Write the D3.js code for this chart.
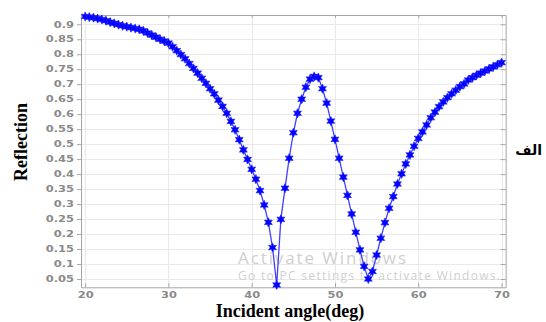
<!DOCTYPE html>
<html>
<head>
<meta charset="utf-8">
<script src="https://cdn.jsdelivr.net/npm/d3@7"></script>
<style>
  html, body { margin: 0; padding: 0; background: #fff; }
  svg { display: block; }
</style>
</head>
<body>
<div id="chart"></div>
<script>
// incident angle (deg), 0.5 deg step
const angles = d3.range(20, 70.001, 0.5)
const reflection = [
  0.926, 0.924, 0.922, 0.919, 0.916, 0.912, 0.907, 0.903, 0.899, 0.895,
  0.892, 0.889, 0.886, 0.883, 0.878, 0.871, 0.864, 0.857, 0.850, 0.844,
  0.837, 0.825, 0.812, 0.799, 0.785, 0.769, 0.753, 0.737, 0.720, 0.703,
  0.685, 0.668, 0.647, 0.626, 0.603, 0.576, 0.548, 0.515, 0.481, 0.449,
  0.416, 0.383, 0.345, 0.297, 0.239, 0.155, 0.030, 0.249, 0.353, 0.453,
  0.538, 0.603, 0.650, 0.690, 0.717, 0.726, 0.722, 0.685, 0.637, 0.577,
  0.516, 0.453, 0.390, 0.329, 0.267, 0.206, 0.147, 0.092, 0.050, 0.075,
  0.130, 0.186, 0.238, 0.286, 0.325, 0.367, 0.401, 0.434, 0.464, 0.493,
  0.519, 0.541, 0.564, 0.588, 0.607, 0.625, 0.641, 0.655, 0.668, 0.680,
  0.692, 0.701, 0.714, 0.722, 0.730, 0.737, 0.744, 0.751, 0.758, 0.765,
  0.772
]
const xTicks = [20, 30, 40, 50, 60, 70]
const yTicks = [0.05, 0.1, 0.15, 0.2, 0.25, 0.3, 0.35, 0.4, 0.45, 0.5,
  0.55, 0.6, 0.65, 0.7, 0.75, 0.8, 0.85, 0.9]

const width = 546
const height = 322
const plotLeft = 81, plotRight = 505.7, plotTop = 15, plotBottom = 287.3
const labelStretch = 1.35

const svg = d3.select("#chart")
  .append("svg")
  .attr("width", width)
  .attr("height", height)

const xScale = d3.scaleLinear().domain([19.5, 70.5]).range([plotLeft, plotRight])
const yScale = d3.scaleLinear().domain([0.0222, 0.931]).range([plotBottom, plotTop])

// grid
const grid = svg.append("g").attr("stroke", "#e9e9e9").attr("stroke-width", 1)
grid.selectAll("line.h")
  .data(yTicks)
  .enter()
  .append("line")
  .attr("x1", plotLeft).attr("x2", plotRight)
  .attr("y1", d => Math.round(yScale(d)) + 0.5)
  .attr("y2", d => Math.round(yScale(d)) + 0.5)
grid.selectAll("line.v")
  .data(xTicks)
  .enter()
  .append("line")
  .attr("y1", plotTop).attr("y2", plotBottom)
  .attr("x1", d => Math.round(xScale(d)) + 0.5)
  .attr("x2", d => Math.round(xScale(d)) + 0.5)

// watermark
const wm = svg.append("g")
  .attr("fill", "#cfcfcf")
  .attr("font-family", "'Open Sans', 'DejaVu Sans', sans-serif")
wm.append("text")
  .attr("x", 238).attr("y", 264)
  .attr("font-size", 17)
  .attr("textLength", 168)
  .text("Activate Windows")
wm.append("text")
  .attr("x", 238).attr("y", 280)
  .attr("font-size", 12)
  .attr("textLength", 262)
  .text("Go to PC settings to activate Windows.")

function styleAxis(g) {
  g.select(".domain").attr("stroke", "#a6a6a6")
  g.selectAll(".tick line").attr("stroke", "#a6a6a6")
  g.selectAll(".tick text")
    .attr("fill", "#8a8a8a")
    .attr("font-family", "'DejaVu Sans', sans-serif")
    .attr("font-weight", "bold")
    .attr("font-size", 8.5)
}

const yAxis = svg.append("g")
  .attr("transform", `translate(${plotLeft},0)`)
  .call(d3.axisLeft(yScale).tickValues(yTicks).tickFormat(d3.format("")).tickSize(4).tickSizeOuter(0).tickPadding(3))
styleAxis(yAxis)
yAxis.selectAll(".tick text").each(function() {
  const t = d3.select(this)
  const x = +t.attr("x")
  t.attr("x", 0).attr("transform", `translate(${x},0) scale(${labelStretch},1)`)
})

const xAxis = svg.append("g")
  .attr("transform", `translate(0,${plotBottom})`)
  .call(d3.axisBottom(xScale).tickValues(xTicks).tickSizeInner(-4).tickSizeOuter(0).tickPadding(5))
styleAxis(xAxis)
xAxis.selectAll(".tick text").attr("transform", `scale(${labelStretch},1)`)

svg.append("g")
  .attr("transform", `translate(0,${plotTop})`)
  .call(d3.axisBottom(xScale).tickValues(xTicks).tickSize(3).tickSizeOuter(0).tickFormat(""))
  .call(styleAxis)

svg.append("g")
  .attr("transform", `translate(${plotRight},0)`)
  .call(d3.axisLeft(yScale).tickValues(yTicks).tickSize(5).tickSizeOuter(0).tickFormat(""))
  .call(styleAxis)

// data line
const points = angles.map((a, i) => ({angle: a, value: reflection[i]}))
svg.append("path")
  .datum(points)
  .attr("fill", "none")
  .attr("stroke", "#3f3fff")
  .attr("stroke-width", 1.3)
  .attr("d", d3.line()
    .x(d => xScale(d.angle))
    .y(d => yScale(d.value)))

// six-point star markers
const starPath = (() => {
  const pts = []
  for (let k = 0; k < 12; k++) {
    const r = k % 2 === 0 ? 4.6 : 2.4
    const a = Math.PI / 6 * k - Math.PI / 2
    pts.push([r * Math.cos(a), r * Math.sin(a)])
  }
  return "M" + pts.map(p => p.join(",")).join("L") + "Z"
})()

svg.append("g")
  .selectAll("path")
  .data(points)
  .enter()
  .append("path")
  .attr("d", starPath)
  .attr("transform", d => `translate(${xScale(d.angle)},${yScale(d.value)})`)
  .attr("fill", "#0000ff")
  .attr("stroke", "#2020ff")
  .attr("stroke-width", 0.6)

// titles
svg.append("text")
  .attr("transform", `translate(27,142) rotate(-90)`)
  .attr("text-anchor", "middle")
  .attr("font-family", "'Liberation Serif', 'Times New Roman', serif")
  .attr("font-weight", "bold")
  .attr("font-size", 18)
  .attr("fill", "#000")
  .text("Reflection")

svg.append("text")
  .attr("x", 290)
  .attr("y", 317)
  .attr("text-anchor", "middle")
  .attr("font-family", "'Liberation Serif', 'Times New Roman', serif")
  .attr("font-weight", "bold")
  .attr("font-size", 18)
  .attr("fill", "#000")
  .text("Incident angle(deg)")

svg.append("text")
  .attr("x", 542)
  .attr("y", 155)
  .attr("text-anchor", "end")
  .attr("font-family", "'DejaVu Sans', 'Noto Sans', sans-serif")
  .attr("font-weight", "bold")
  .attr("font-size", 14)
  .attr("fill", "#000")
  .text("الف")
</script>
</body>
</html>
